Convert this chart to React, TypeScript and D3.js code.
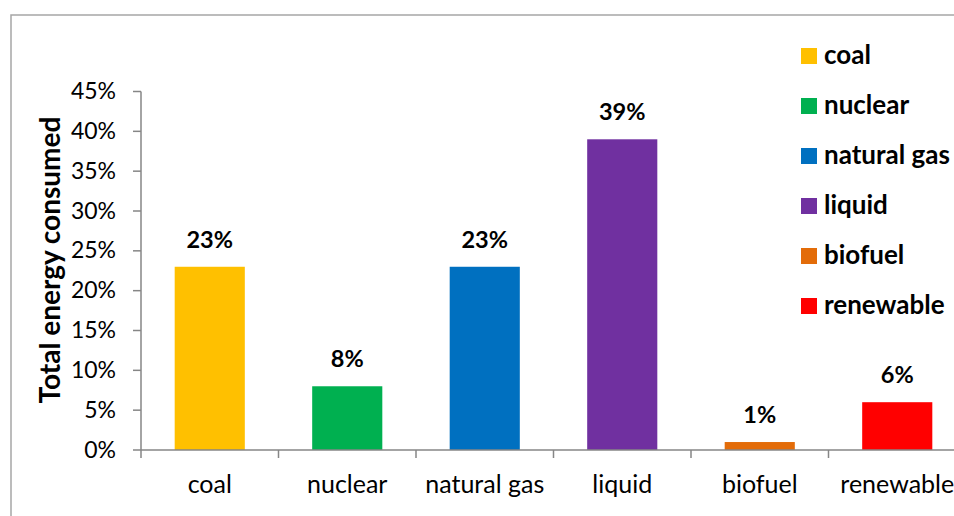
import React, { useEffect, useRef } from "react";
import * as d3 from "d3";

const categories = ["coal", "nuclear", "natural gas", "liquid", "biofuel", "renewable"];
const shares = [23, 8, 23, 39, 1, 6];
const colors = ["#FFC000", "#00B050", "#0070C0", "#7030A0", "#E36C09", "#FF0000"];
const yTicks = [0, 5, 10, 15, 20, 25, 30, 35, 40, 45];

const W = 954;
const H = 516;
const FONT = "Lato, 'Open Sans', sans-serif";

export default function App() {
  const ref = useRef<SVGSVGElement>(null);

  useEffect(() => {
    const svg = d3.select(ref.current);
    svg.selectAll("*").remove();

    // chart-area frame
    svg.append("rect")
      .attr("x", 11).attr("y", 15)
      .attr("width", W + 20).attr("height", H + 20)
      .attr("fill", "white").attr("stroke", "#A6A6A6").attr("stroke-width", 1.5);

    const left = 141, bottom = 450;
    const x = d3.scaleBand<string>().domain(categories).range([left, left + 6 * 137.5]).paddingInner(0.49).paddingOuter(0.245);
    const xb = d3.scaleBand<string>().domain(categories).range([left, left + 6 * 137.5]);
    const y = d3.scaleLinear().domain([0, 45]).range([bottom, 91.5]);

    const axisColor = "#868686";

    // y axis line and ticks
    svg.append("line").attr("x1", left).attr("x2", left).attr("y1", y(45)).attr("y2", bottom)
      .attr("stroke", axisColor).attr("stroke-width", 1.5);
    const yt = svg.append("g");
    yTicks.forEach((t) => {
      yt.append("line").attr("x1", left - 8).attr("x2", left).attr("y1", y(t)).attr("y2", y(t))
        .attr("stroke", axisColor).attr("stroke-width", 1.5);
      yt.append("text").attr("x", 116).attr("y", y(t) + 7.5)
        .attr("text-anchor", "end").attr("font-family", FONT).attr("font-size", 23)
        .attr("fill", "#000").text(`${t}%`);
    });

    // bars
    svg.append("g").selectAll("rect").data(categories).join("rect")
      .attr("x", (d) => x(d)!)
      .attr("width", x.bandwidth())
      .attr("y", (d, i) => y(shares[i]))
      .attr("height", (d, i) => bottom - y(shares[i]))
      .attr("fill", (d, i) => colors[i]);

    // value labels
    svg.append("g").selectAll("text").data(categories).join("text")
      .attr("x", (d) => x(d)! + x.bandwidth() / 2)
      .attr("y", (d, i) => y(shares[i]) - 19)
      .attr("text-anchor", "middle")
      .attr("font-family", FONT).attr("font-weight", "bold").attr("font-size", 23.5)
      .text((d, i) => `${shares[i]}%`);

    // x axis line and ticks
    svg.append("line").attr("x1", left).attr("x2", W + 20).attr("y1", bottom).attr("y2", bottom)
      .attr("stroke", axisColor).attr("stroke-width", 1.5);
    categories.forEach((c) => {
      const bx = xb(c)!;
      svg.append("line").attr("x1", bx).attr("x2", bx).attr("y1", bottom).attr("y2", bottom + 8)
        .attr("stroke", axisColor).attr("stroke-width", 1.5);
      svg.append("text").attr("x", bx + xb.bandwidth() / 2).attr("y", 493)
        .attr("text-anchor", "middle").attr("font-family", FONT).attr("font-size", 25)
        .text(c);
    });

    // y axis title
    svg.append("text")
      .attr("transform", `translate(60,260) rotate(-90)`)
      .attr("text-anchor", "middle").attr("font-family", FONT).attr("font-weight", "bold")
      .attr("font-size", 28).text("Total energy consumed");

    // legend
    const lg = svg.append("g");
    categories.forEach((c, i) => {
      const cy = 56 + i * 50;
      lg.append("rect").attr("x", 801).attr("y", cy - 8).attr("width", 16).attr("height", 16).attr("fill", colors[i]);
      lg.append("text").attr("x", 824).attr("y", cy + 8)
        .attr("font-family", FONT).attr("font-weight", "bold").attr("font-size", 26).text(c);
    });
  }, []);

  return (
    <svg ref={ref} width={W} height={H} style={{ position: "absolute", left: 0, top: 0, background: "white" }} />
  );
}
